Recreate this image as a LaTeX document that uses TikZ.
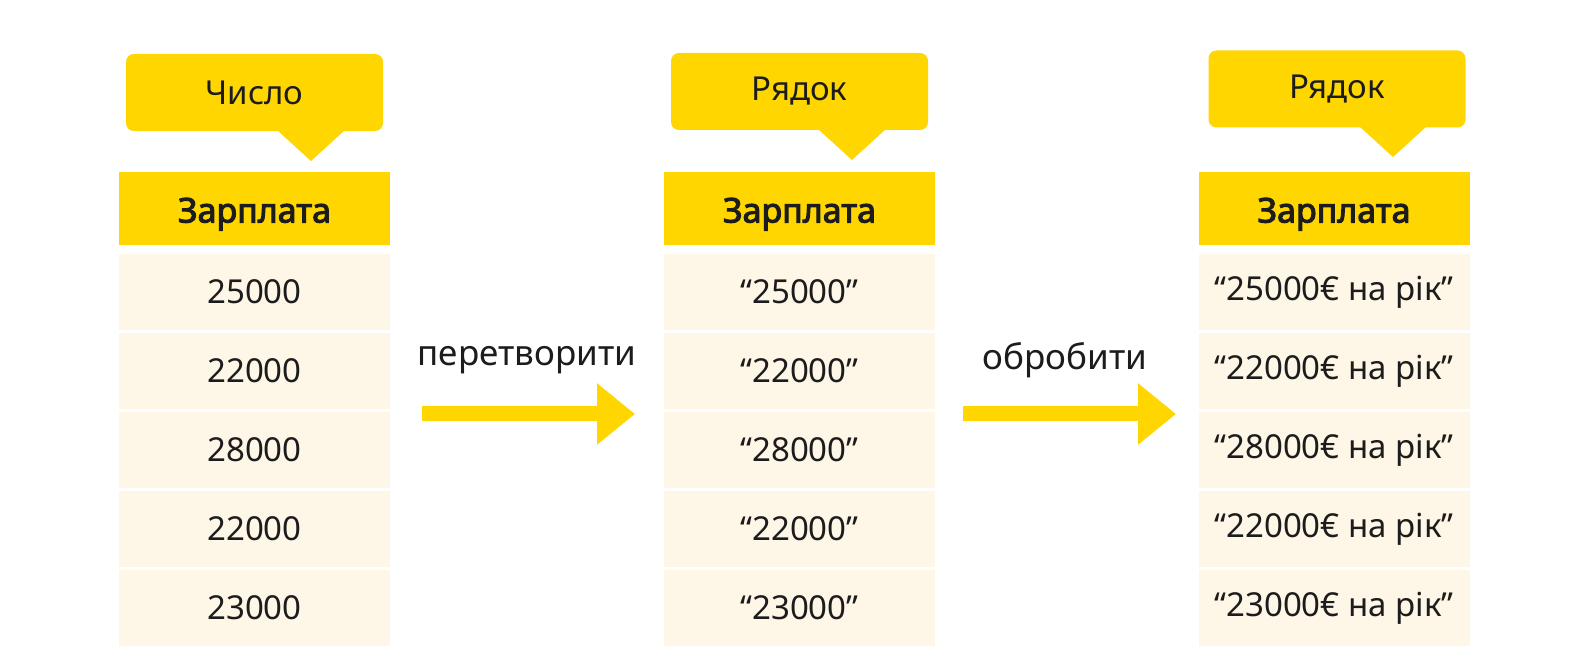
\documentclass[tikz,border=0pt]{standalone}
\usepackage{fontspec}
\setmainfont{Noto Sans}
\newfontfamily\hfont{Noto Sans}[FakeBold=3]
\usetikzlibrary{arrows.meta}
\definecolor{yel}{RGB}{255,214,0}
\definecolor{cream}{RGB}{254,247,231}
\definecolor{ink}{RGB}{28,28,28}
\tikzset{
  callout/.style={fill=yel, rounded corners=4pt, minimum width=128.5pt, minimum height=38.5pt, inner sep=0pt, text=ink, font=\fontsize{16.5pt}{19pt}\selectfont},
  headbox/.style={fill=yel, minimum width=135.5pt, minimum height=36.5pt, inner sep=0pt, text height=14pt, text depth=0pt, text=ink, font=\hfont\fontsize{17pt}{19pt}\selectfont},
  cellbox/.style={fill=cream, minimum width=135.5pt, minimum height=38pt, inner sep=0pt, text=ink, font=\fontsize{16.5pt}{19pt}\selectfont},
  lbl/.style={text=ink, font=\fontsize{17.5pt}{19pt}\selectfont, inner sep=0pt},
  bigarrow/.style={draw=yel, line width=7.5pt, -{Triangle[length=19pt, width=29.5pt]}}
}
\begin{document}
\begin{tikzpicture}[x=0.5pt,y=-0.5pt]
\fill[white] (0,0) rectangle (1594,672);
\useasboundingbox (0,0) rectangle (1594,672);

% ---------- Table 1 ----------
\coordinate (t1) at (311,161);
\fill[yel] (t1) -- ++(-34,-31) -- ++(68,0) -- cycle;
\node[callout] (c1) at (254.5,92.5) {Число};
\node[headbox] (h1) at (254.5,208.5) {Зарплата};
\node[cellbox] (r11) at (254.5,292) {25000};
\node[cellbox] (r12) at (254.5,371) {22000};
\node[cellbox] (r13) at (254.5,450) {28000};
\node[cellbox] (r14) at (254.5,529) {22000};
\node[cellbox] (r15) at (254.5,608) {23000};

% ---------- Table 2 ----------
\coordinate (t2) at (852,160);
\fill[yel] (t2) -- ++(-34,-31) -- ++(68,0) -- cycle;
\node[callout] (c2) at (799.5,91.5) {Рядок};
\node[headbox] (h2) at (799.5,208.5) {Зарплата};
\node[cellbox] (r21) at (799.5,292) {“25000”};
\node[cellbox] (r22) at (799.5,371) {“22000”};
\node[cellbox] (r23) at (799.5,450) {“28000”};
\node[cellbox] (r24) at (799.5,529) {“22000”};
\node[cellbox] (r25) at (799.5,608) {“23000”};

% ---------- Table 3 ----------
\coordinate (t3) at (1393,157);
\fill[yel] (t3) -- ++(-34,-31) -- ++(68,0) -- cycle;
\node[callout] (c3) at (1337,89) {Рядок};
\node[headbox] (h3) at (1334,208.5) {Зарплата};
\node[cellbox] (r31) at (1334,292) {“25000€ на рік”};
\node[cellbox] (r32) at (1334,371) {“22000€ на рік”};
\node[cellbox] (r33) at (1334,450) {“28000€ на рік”};
\node[cellbox] (r34) at (1334,529) {“22000€ на рік”};
\node[cellbox] (r35) at (1334,608) {“23000€ на рік”};

% ---------- Arrows ----------
\coordinate (a1s) at (422,414);
\coordinate (a1e) at (635,414);
\coordinate (a2s) at (963,414);
\coordinate (a2e) at (1176,414);
\draw[bigarrow] (a1s) -- (a1e);
\draw[bigarrow] (a2s) -- (a2e);
\node[lbl] (l1) at (527,360) {перетворити};
\node[lbl] (l2) at (1065,360) {обробити};
\end{tikzpicture}
\end{document}
